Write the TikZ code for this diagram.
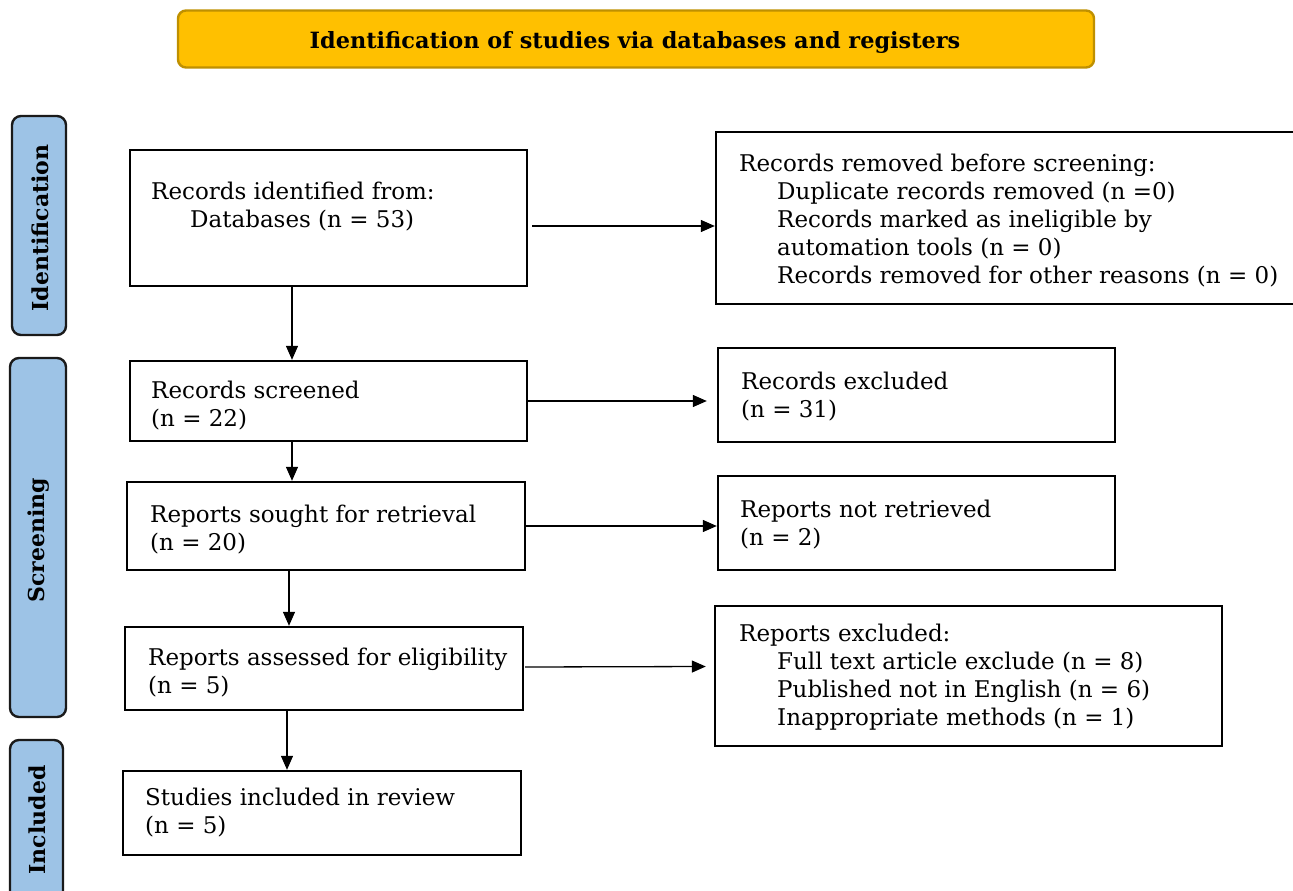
\documentclass[tikz,border=0pt]{standalone}
\usepackage{fontspec}
\setmainfont{DejaVu Serif}
\usetikzlibrary{arrows.meta}
\definecolor{titlefill}{HTML}{FFC000}
\definecolor{titledraw}{HTML}{BF9000}
\definecolor{sidefill}{HTML}{9DC3E6}
\definecolor{sidedraw}{HTML}{1A1A1A}
\tikzset{
  box/.style={draw=black, line width=2.4pt, fill=white, inner sep=0pt},
  txt/.style={anchor=west, align=left, inner sep=0pt, font=\fontsize{23}{28}\selectfont},
  side/.style={draw=sidedraw, line width=2.4pt, fill=sidefill, rounded corners=9pt, inner sep=0pt},
  sidetxt/.style={rotate=90, inner sep=0pt, font=\fontsize{22}{24}\selectfont\bfseries},
  arr/.style={line width=1.3pt, -{Triangle[length=14pt, width=12pt]}},
}
\begin{document}
\begin{tikzpicture}[x=1pt, y=-1pt]
\useasboundingbox (0,0) rectangle (1293,891);
% title
\node[draw=titledraw, line width=2.4pt, fill=titlefill, rounded corners=8pt, minimum width=916pt, minimum height=57pt, inner sep=0pt] (title) at (636,39) {};
\node[inner sep=0pt, font=\fontsize{22.4}{24}\selectfont\bfseries] (titletxt) at (635,42) {Identification of studies via databases and registers};
% side labels
\node[side, minimum width=54pt, minimum height=219pt] (sid) at (39,225.5) {};
\node[sidetxt] (sidt) at (40,228) {Identification};
\node[side, minimum width=56pt, minimum height=359pt] (sscr) at (38,537.5) {};
\node[sidetxt] (sscrt) at (39,540) {Screening};
\node[side, minimum width=53pt, minimum height=160pt] (sinc) at (36.5,820) {};
\node[sidetxt] (sinct) at (37,820) {Included};
% boxes
\node[box, minimum width=397pt, minimum height=136pt] (b1) at (328.5,218) {};
\node[txt] (t1) at (151,207) {Records identified from:\\\hspace*{39pt}Databases (n = 53)};
\node[box, minimum width=590pt, minimum height=172pt] (b2) at (1011,218) {};
\node[txt] (t2) at (739,221) {Records removed before screening:\\\hspace*{38pt}Duplicate records removed (n =0)\\\hspace*{38pt}Records marked as ineligible by\\\hspace*{38pt}automation tools (n = 0)\\\hspace*{38pt}Records removed for other reasons (n = 0)};
\node[box, minimum width=397pt, minimum height=80pt] (b3) at (328.5,401) {};
\node[txt] (t3) at (151,406) {Records screened\\(n = 22)};
\node[box, minimum width=397pt, minimum height=94pt] (b4) at (916.5,395) {};
\node[txt] (t4) at (741,397) {Records excluded\\(n = 31)};
\node[box, minimum width=398pt, minimum height=88pt] (b5) at (326,526) {};
\node[txt] (t5) at (150,530) {Reports sought for retrieval\\(n = 20)};
\node[box, minimum width=397pt, minimum height=94pt] (b6) at (916.5,523) {};
\node[txt] (t6) at (740,525) {Reports not retrieved\\(n = 2)};
\node[box, minimum width=398pt, minimum height=83pt] (b7) at (324,668.5) {};
\node[txt] (t7) at (148,673) {Reports assessed for eligibility\\(n = 5)};
\node[box, minimum width=507pt, minimum height=140pt] (b8) at (968.5,676) {};
\node[txt] (t8) at (739,677) {Reports excluded:\\\hspace*{38pt}Full text article exclude (n = 8)\\\hspace*{38pt}Published not in English (n = 6)\\\hspace*{38pt}Inappropriate methods (n = 1)};
\node[box, minimum width=398pt, minimum height=84pt] (b9) at (322,813) {};
\node[txt] (t9) at (145,813) {Studies included in review\\(n = 5)};
% arrows
\draw[arr] ([xshift=4pt, yshift=-8pt]b1.east) -- ([yshift=-8pt]b2.west);
\draw[arr] ([xshift=-36.5pt, yshift=2pt]b1.south) -- ([xshift=-36.5pt]b3.north);
\draw[arr] (b3.east) -- ([xshift=-10pt, yshift=-6pt]b4.west);
\draw[arr] ([xshift=-36.5pt]b3.south) -- ([xshift=-34pt]b5.north);
\draw[arr] (b5.east) -- ([yshift=-3pt]b6.west);
\draw[arr] ([xshift=-37pt, yshift=2pt]b5.south) -- ([xshift=-35pt]b7.north);
\draw[arr] ([xshift=1pt, yshift=1.5pt]b7.east) -- ([xshift=-8pt, yshift=9.5pt]b8.west);
\draw[arr] ([xshift=-37pt]b7.south) -- ([xshift=-35pt]b9.north);
\end{tikzpicture}
\end{document}
